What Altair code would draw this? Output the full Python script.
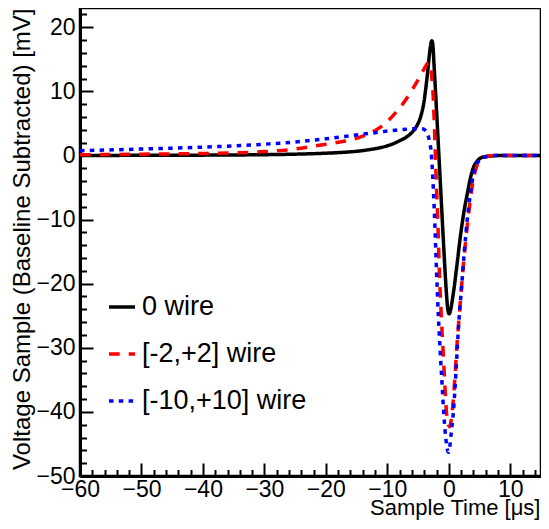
import altair as alt
import pandas as pd

# ---- data ----
series_names = ["0 wire", "[-2,+2] wire", "[-10,+10] wire"]
series_colors = ["#000000", "#ff0000", "#0000ff"]
series_dashes = [[1, 0], [10.7, 9], [4.5, 5.3]]

black_x = [-60, -50, -40, -30, -25, -20, -17, -15, -13, -11, -9, -8, -7, -6, -5, -4.5, -4, -3.7, -3.4, -3.1,
           -2.9, -2.75, -2.6, -2.4, -2.1, -1.8, -1.5, -1.2, -0.9, -0.6, -0.35, -0.15, 0.05, 0.25, 0.5, 0.8,
           1.4, 1.9, 2.5, 3.0, 3.5, 4.0, 4.6, 5.4, 6.7, 8, 15]
black_y = [0.0, 0.02, 0.05, 0.12, 0.2, 0.35, 0.5, 0.65, 0.9, 1.25, 1.85, 2.3, 2.8, 3.6, 5.0, 6.3, 8.6, 10.8, 13.4, 16.2,
           17.5, 17.9, 17.3, 14.1, 8.9, 3.5, -2.0, -7.5, -13.0, -18.2, -22.0, -24.1, -24.7, -24.3, -23.0, -21.1,
           -16.5, -12.5, -8.6, -6.0, -3.6, -1.9, -0.9, -0.3, -0.1, 0.0, 0.0]

red_x = [-60, -50, -40, -35, -30, -25, -22, -20, -18, -16, -14, -12, -11, -10, -9, -8, -7, -6, -5, -4.5, -4, -3.6,
         -3.3, -3.0, -2.8, -2.6, -2.4, -2.2, -2.0, -1.8, -1.5, -1.2, -0.9, -0.6, -0.35, -0.1, 0.15, 0.4, 0.7, 1.0,
         1.3, 1.7, 2.2, 2.7, 3.2, 3.7, 4.2, 4.7, 5.3, 6.2, 8, 15]
red_y = [0.1, 0.2, 0.3, 0.4, 0.6, 1.0, 1.45, 1.75, 2.05, 2.4, 3.0, 3.9, 4.5, 5.3, 6.3, 7.4, 8.7, 10.2, 11.8, 12.7, 13.5, 14.2,
         14.5, 14.0, 12.5, 10.3, 6.0, 0.5, -5.0, -10.0, -19.0, -25.5, -31.0, -36.5, -40.5, -42.0, -42.3, -41.2, -38.5, -34.5,
         -30.0, -25.0, -19.0, -13.8, -9.3, -5.5, -2.8, -1.3, -0.5, -0.15, 0.0, 0.0]

blue_x = [-60, -50, -40, -30, -25, -20, -15, -12, -10, -8, -6, -5, -4.3, -3.8, -3.4, -3.1, -2.9, -2.7, -2.5, -2.3,
          -2.0, -1.7, -1.4, -1.1, -0.8, -0.5, -0.25, -0.05, 0.15, 0.4, 0.7, 1.0, 1.3, 1.6, 2.0, 2.5, 3.0, 3.5, 4.0,
          4.6, 5.2, 6.2, 8, 15]
blue_y = [0.75, 1.0, 1.3, 1.75, 2.1, 2.6, 3.2, 3.55, 3.8, 4.0, 4.15, 4.2, 4.15, 3.9, 3.2, 2.0, 0.8, -1.8, -5.5, -10.0,
          -18.0, -25.0, -30.5, -35.6, -40.5, -44.0, -45.8, -46.3, -45.5, -43.2, -40.5, -36.5, -31.5, -26.5, -21.5, -15.3,
          -10.0, -6.0, -3.0, -1.3, -0.5, -0.15, 0.0, 0.0]

x_major = [-60, -50, -40, -30, -20, -10, 0, 10]
x_minor = [v for v in range(-58, 15, 2) if v % 10 != 0]
y_major = [-50, -40, -30, -20, -10, 0, 10, 20]
y_minor = [v for v in range(-48, 23, 2) if v % 10 != 0]

x_domain = [-60, 15]
y_domain = [-50, 23]

rows = []
for name, xs, ys in zip(series_names, [black_x, red_x, blue_x], [black_y, red_y, blue_y]):
    for i, (a, b) in enumerate(zip(xs, ys)):
        rows.append({"series": name, "t": a, "v": b, "i": i})
df = pd.DataFrame(rows)

FONT = "Liberation Sans"
W, H = 461, 468
xscale = alt.Scale(domain=x_domain, nice=False, zero=False)
yscale = alt.Scale(domain=y_domain, nice=False, zero=False)

legend = alt.Legend(orient="none", legendX=27, legendY=284, symbolType="stroke", symbolSize=676,
                    symbolStrokeWidth=3.5, labelFontSize=27, labelFont=FONT, labelOffset=5, padding=0,
                    rowPadding=19, labelColor="black", labelLimit=400)

lines = alt.Chart(df).mark_line(strokeWidth=3.5, interpolate="monotone").encode(
    x=alt.X("t:Q", scale=xscale, title="Sample Time [μs]",
            axis=alt.Axis(orient="bottom", values=x_major, ticks=False, tickSize=0, grid=False,
                          domain=True, domainColor="black", domainWidth=3,
                          labelFontSize=23, labelFont=FONT, labelPadding=2, labelFlush=False,
                          labelColor="black", labelOverlap=False,
                          titleFontSize=22, titleFont=FONT, titleFontWeight="normal", titleColor="black",
                          titleAnchor="end", titleAlign="right", titleBaseline="alphabetic",
                          titleX=W - 1, titleY=38)),
    y=alt.Y("v:Q", scale=yscale, title="Voltage Sample (Baseline Subtracted) [mV]",
            axis=alt.Axis(orient="left", values=y_major, ticks=False, tickSize=0, grid=False,
                          domain=True, domainColor="black", domainWidth=3,
                          labelFontSize=23, labelFont=FONT, labelPadding=5, labelFlush=False,
                          labelColor="black", labelOverlap=False,
                          titleFontSize=24, titleFont=FONT, titleFontWeight="normal", titleColor="black",
                          titleAngle=270, titleAnchor="end", titleAlign="right", titleBaseline="alphabetic",
                          titleX=-51, titleY=0)),
    color=alt.Color("series:N", scale=alt.Scale(domain=series_names, range=series_colors),
                    legend=legend, title=None),
    strokeDash=alt.StrokeDash("series:N", scale=alt.Scale(domain=series_names, range=series_dashes),
                              legend=legend, title=None),
    order="i:Q",
)


def tick_layer(xvals, yvals, size):
    return alt.Chart(df).mark_point(opacity=0).encode(
        x=alt.X("t:Q", scale=xscale, title=None,
                axis=alt.Axis(orient="bottom", values=xvals, labels=False, domain=False, grid=False,
                              ticks=True, tickSize=size, tickWidth=2, tickColor="black", offset=-size)),
        y=alt.Y("v:Q", scale=yscale, title=None,
                axis=alt.Axis(orient="left", values=yvals, labels=False, domain=False, grid=False,
                              ticks=True, tickSize=size, tickWidth=2, tickColor="black", offset=-size)),
    )


major = tick_layer(x_major, y_major, 13)
minor = tick_layer(x_minor, y_minor, 6.5)

chart = alt.layer(lines, major, minor).resolve_axis(
    x="independent", y="independent"
).properties(
    width=W, height=H,
    autosize=alt.AutoSizeParams(type="none"),
    padding={"left": 72, "top": 0, "right": 0, "bottom": 45},
    background="white",
).configure_view(stroke="black", strokeWidth=2.5)

chart.save("out.html", embed_options={"renderer": "svg", "actions": False})
